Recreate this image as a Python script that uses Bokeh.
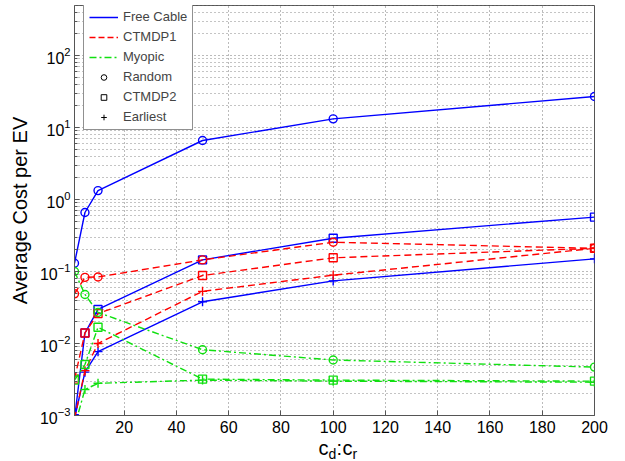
from bokeh.plotting import figure
from bokeh.layouts import column
from bokeh.models import (Range1d, FixedTicker, Legend, LegendItem, Label,
                          ColumnDataSource)
from bokeh.embed import file_html
from bokeh.resources import INLINE

# ---- data ----
x_ratio = [1, 5, 10, 50, 100, 200]

free_random = [0.13, 0.66, 1.33, 6.6, 13.2, 27.0]
free_ctmdp2 = [0.0009, 0.014, 0.0297, 0.145, 0.29, 0.57]
free_earliest = [0.0009, 0.0040, 0.0077, 0.038, 0.074, 0.15]

ctmdp1_random = [0.049, 0.083, 0.084, 0.145, 0.255, 0.21]
ctmdp1_ctmdp2 = [0.0032, 0.014, 0.026, 0.088, 0.155, 0.21]
ctmdp1_earliest = [0.0009, 0.0042, 0.0100, 0.053, 0.089, 0.21]

myopic_random = [0.10, 0.048, 0.027, 0.0082, 0.0059, 0.0047]
myopic_ctmdp2 = [0.0031, 0.0051, 0.0168, 0.0032, 0.0031, 0.0030]
myopic_earliest = [0.0007, 0.0023, 0.0028, 0.0031, 0.0030, 0.0029]

x_ticks = [20, 40, 60, 80, 100, 120, 140, 160, 180, 200]
y_major = [1e-3, 1e-2, 1e-1, 1e0, 1e1, 1e2]
y_minor = [m * d for d in [1e-3, 1e-2, 1e-1, 1e0, 1e1, 1e2] for m in range(2, 10)]

legend_names = ["Free Cable", "CTMDP1", "Myopic", "Random", "CTMDP2", "Earliest"]
x_label_parts = ["c", "d", ":", "c", "r"]

BLUE = "#0000ff"
RED = "#ff0000"
GREEN = "#10e010"
AX = "#555555"
FONT = "Liberation Sans"

p = figure(width=610, height=445, y_axis_type="log",
           x_range=Range1d(1, 200), y_range=Range1d(1e-3, 495),
           output_backend="svg", toolbar_location=None,
           min_border_left=74, min_border_right=16, min_border_top=5,
           min_border_bottom=30)
p.background_fill_color = "white"
p.border_fill_color = "white"
p.outline_line_color = AX
p.outline_line_width = 1

xticker = FixedTicker(ticks=x_ticks)
yticker = FixedTicker(ticks=y_major, minor_ticks=y_minor)

p.xaxis.ticker = xticker
p.yaxis.ticker = yticker

for ax in (p.xaxis, p.yaxis):
    ax.axis_line_color = AX
    ax.major_tick_line_color = AX
    ax.minor_tick_line_color = AX
    ax.major_tick_in = 5
    ax.major_tick_out = 0
    ax.minor_tick_in = 3
    ax.minor_tick_out = 0
    ax.major_label_text_font = FONT
    ax.major_label_text_font_size = "16px"
    ax.major_label_text_color = "black"
p.xaxis.minor_tick_in = 0
p.xaxis.major_label_standoff = 5
p.yaxis.major_label_standoff = 4

p.xaxis.axis_label = None
p.yaxis.axis_label = "Average Cost per EV"
p.yaxis.axis_label_text_font = FONT
p.yaxis.axis_label_text_font_size = "20px"
p.yaxis.axis_label_text_font_style = "normal"
p.yaxis.axis_label_text_color = "black"
p.yaxis.axis_label_standoff = 6

# grids
p.xgrid.ticker = xticker
p.xgrid.grid_line_color = "#777777"
p.xgrid.grid_line_dash = "1 3"
p.xgrid.grid_line_width = 1
p.ygrid.grid_line_color = "#777777"
p.ygrid.grid_line_dash = "1 3"
p.ygrid.minor_grid_line_color = "#888888"
p.ygrid.minor_grid_line_dash = "1 3"

# ---- series ----
series = [
    (free_random, BLUE, "solid", "circle"),
    (free_ctmdp2, BLUE, "solid", "square"),
    (free_earliest, BLUE, "solid", "cross"),
    (ctmdp1_random, RED, "7 4", "circle"),
    (ctmdp1_ctmdp2, RED, "7 4", "square"),
    (ctmdp1_earliest, RED, "7 4", "cross"),
    (myopic_random, GREEN, "7 3 2 3", "circle"),
    (myopic_ctmdp2, GREEN, "7 3 2 3", "square"),
    (myopic_earliest, GREEN, "7 3 2 3", "cross"),
]
for ys, col, dash, mk in series:
    src = ColumnDataSource(dict(x=x_ratio, y=ys))
    p.line("x", "y", source=src, line_color=col, line_width=1.4, line_dash=dash)
    p.scatter("x", "y", source=src, marker=mk, size=9 if mk == "cross" else 8,
              line_color=col, fill_color=None, line_width=1.4)

# ---- legend (renderers with no visible points) ----
nan_src = ColumnDataSource(dict(x=x_ratio, y=[float("nan")] * len(x_ratio)))
r_l1 = p.line("x", "y", source=nan_src, line_color=BLUE, line_width=1.5)
r_l2 = p.line("x", "y", source=nan_src, line_color=RED, line_width=1.5, line_dash="6 3")
r_l3 = p.line("x", "y", source=nan_src, line_color=GREEN, line_width=1.5,
              line_dash="7 3 2 3")
r_m1 = p.scatter("x", "y", source=nan_src, marker="circle", size=7, line_color="black",
                 fill_color=None, line_width=1)
r_m2 = p.scatter("x", "y", source=nan_src, marker="square", size=7, line_color="black",
                 fill_color=None, line_width=1)
r_m3 = p.scatter("x", "y", source=nan_src, marker="cross", size=7, line_color="black",
                 fill_color=None, line_width=1)
items = [LegendItem(label=n, renderers=[r]) for n, r in
         zip(legend_names, [r_l1, r_l2, r_l3, r_m1, r_m2, r_m3])]
legend = Legend(items=items, location=(9, 410 - 6 - 119),
                label_text_font=FONT, label_text_font_size="13px",
                label_height=14, glyph_height=14, glyph_width=29, spacing=5,
                padding=5, label_standoff=5, border_line_color="#222222",
                border_line_width=1, background_fill_color="white",
                background_fill_alpha=1.0, margin=0)
p.add_layout(legend, "center")

# ---- x axis label c_d:c_r as real text, in a transparent strip overlapping the
#      bottom border of the plot ----
q = figure(width=610, height=50, x_range=Range1d(0, 1), y_range=Range1d(0, 1),
           output_backend="svg", toolbar_location=None,
           x_axis_location=None, y_axis_location=None,
           min_border_left=74, min_border_right=16, min_border_top=0,
           min_border_bottom=0, margin=(-29, 0, 0, 0))
q.outline_line_color = None
q.xgrid.visible = False
q.ygrid.visible = False
q.background_fill_alpha = 0
q.border_fill_alpha = 0
offsets = [244, 254, 262, 268, 278]
bases = [19, 13, 19, 19, 13]
sizes = ["20px", "14px", "20px", "20px", "14px"]
for t, xs, ys, fs in zip(x_label_parts, offsets, bases, sizes):
    q.add_layout(Label(x=xs, y=ys, x_units="screen", y_units="screen", text=t,
                       text_font=FONT, text_font_size=fs, text_color="black",
                       text_baseline="alphabetic", text_align="left"))

layout = column(p, q, spacing=0)
open("out.html", "w").write(file_html(layout, INLINE))
